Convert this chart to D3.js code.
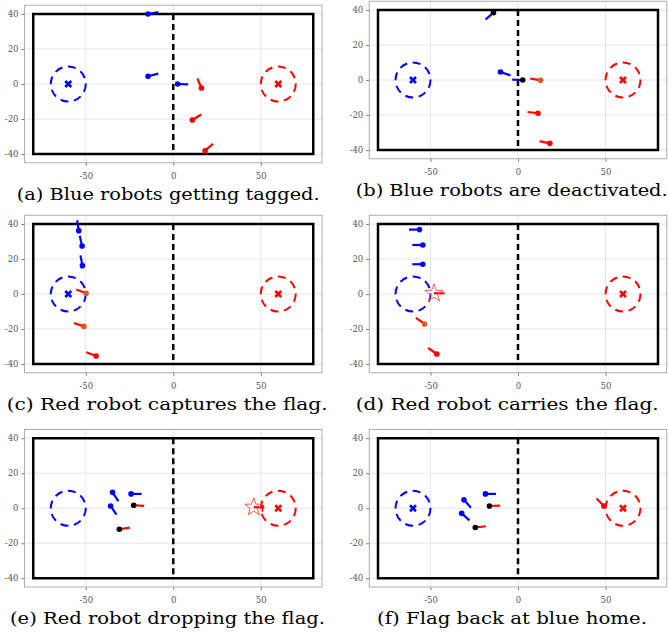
<!DOCTYPE html>
<html>
<head>
<meta charset="utf-8">
<script src="https://cdn.jsdelivr.net/npm/d3@7"></script>
<style>
  body { margin: 0; background: #fff; }
  svg { display: block; }
</style>
</head>
<body>
<svg id="fig" width="668" height="635"></svg>
<script>
// axis ticks
const xTicks = [-50, 0, 50];
const yTicks = [-40, -20, 0, 20, 40];

const captions = [
  '(a) Blue robots getting tagged.',
  '(b) Blue robots are deactivated.',
  '(c) Red robot captures the flag.',
  '(d) Red robot carries the flag.',
  '(e) Red robot dropping the flag.',
  '(f) Flag back at blue home.'
];

// robots per panel: [x, y, heading (deg), team, dot state]
// dot state: b = blue, r = red, k = tagged (black), o = near flag (orange), s = carrying flag (star)
const robotsA = [
  [-14.4, 40, 10, 'blue', 'b'], [-14.4, 4.4, 15, 'blue', 'b'], [2.5, 0, -2, 'blue', 'b'],
  [16.1, -2.3, 113, 'red', 'r'], [10.9, -20.6, 32, 'red', 'r'], [18.2, -38.1, 41, 'red', 'r']
];
const robotsB = [
  [-14, 38.5, 221, 'blue', 'k'], [-10, 4.6, -19, 'blue', 'b'], [2.7, 0, 178, 'blue', 'k'],
  [12.9, -0.2, 170, 'red', 'o'], [11.4, -19, 173, 'red', 'r'], [18.2, -36.2, 168, 'red', 'r']
];
const robotsC = [
  [-54, 36.2, 99, 'blue', 'b'], [-52.1, 27.4, 103, 'blue', 'b'], [-51.9, 16.2, 101, 'blue', 'b'],
  [-49.8, 0.4, 159, 'red', 'o'], [-51.1, -18.5, 161, 'red', 'o'], [-44.1, -35.4, 159, 'red', 'r']
];
const robotsD = [
  [-56.3, 36.8, 180, 'blue', 'b'], [-54.4, 28, 180, 'blue', 'b'], [-54.4, 17, 180, 'blue', 'b'],
  [-48, 0.4, 0, 'red', 's'], [-53.4, -17.1, 145, 'red', 'o'], [-46.4, -34.3, 145, 'red', 'r']
];
const robotsE = [
  [-34.7, 9.1, -56, 'blue', 'b'], [-35.8, 1.3, -56, 'blue', 'b'], [-24.1, 8.2, 0, 'blue', 'b'],
  [-22.6, 1.7, -3, 'red', 'k'], [-30.8, -12, 9, 'red', 'k'], [46, 0.6, 0, 'red', 's']
];
const robotsF = [
  [-30.9, 4.8, -48, 'blue', 'b'], [-32.2, -2.9, -42, 'blue', 'b'], [-18.6, 8.2, 0, 'blue', 'b'],
  [-16.3, 1.3, 2, 'red', 'k'], [-24.4, -11, 7, 'red', 'k'], [49.1, 1.3, 135, 'red', 'r']
];
const panelRobots = [robotsA, robotsB, robotsC, robotsD, robotsE, robotsF];

// is each team's flag sitting at its home base?
const blueFlagHome = [true, true, true, false, false, true];
const redFlagHome  = [true, true, true, true, true, true];
// extra "+" marker where the flag was dropped
const dropMarks = [[], [], [], [], [[51, 0]], []];

const HOME_X = 60, HOME_R = 10;
const FIELD_W = 80, FIELD_H = 40;
const HEAD_LEN = 6;

const COL = { blue: '#0000ff', red: '#ff0000' };
const DOT = { b: '#0000ff', r: '#ff0000', k: '#000000', o: '#e2581c' };

// panel layout (pixels)
const PW = 297.5, PH = 157.5;
const lefts = [24.5, 369.25, 24.5, 369.25, 24.5, 369.25];
const tops  = [5.25, 1.25, 215.25, 215.25, 429.5, 429.5];
const capX  = [16.7, 355.7, 6.7, 355.7, 10, 377];
const capW  = [303, 312, 321, 303, 315, 270];

const svg = d3.select('#fig');

function starPath(r, ri) {
  const pts = [];
  for (let i = 0; i < 10; i++) {
    const a = -Math.PI / 2 + i * Math.PI / 5;
    const rr = i % 2 ? ri : r;
    pts.push([rr * Math.cos(a), rr * Math.sin(a)]);
  }
  return 'M' + pts.map(p => p.join(',')).join('L') + 'Z';
}

panelRobots.forEach((robots, i) => {
  const x = d3.scaleLinear().domain([-85, 85]).range([lefts[i], lefts[i] + PW]);
  const y = d3.scaleLinear().domain([-45, 45]).range([tops[i] + PH, tops[i]]);
  const g = svg.append('g');

  // grid
  g.selectAll('.gx').data(xTicks).join('line')
    .attr('x1', d => x(d)).attr('x2', d => x(d))
    .attr('y1', tops[i]).attr('y2', tops[i] + PH)
    .attr('stroke', '#e6e6e6').attr('stroke-width', 1);
  g.selectAll('.gy').data(yTicks).join('line')
    .attr('x1', lefts[i]).attr('x2', lefts[i] + PW)
    .attr('y1', d => y(d)).attr('y2', d => y(d))
    .attr('stroke', '#e6e6e6').attr('stroke-width', 1);

  // axes
  const fontCss = 'font-family:"DejaVu Serif",serif;font-size:8.5px;fill:#555';
  const xAxis = g.append('g').attr('transform', `translate(0,${tops[i] + PH})`)
    .call(d3.axisBottom(x).tickValues(xTicks).tickSize(3).tickPadding(7).tickFormat(d3.format('d')));
  const yAxis = g.append('g').attr('transform', `translate(${lefts[i]},0)`)
    .call(d3.axisLeft(y).tickValues(yTicks).tickSize(3).tickPadding(3).tickFormat(d3.format('d')));
  [xAxis, yAxis].forEach(ax => {
    ax.select('.domain').remove();
    ax.selectAll('line').attr('stroke', '#777');
    ax.selectAll('text').attr('style', fontCss).text(d => String(d));
  });
  g.append('rect')
    .attr('x', lefts[i]).attr('y', tops[i]).attr('width', PW).attr('height', PH)
    .attr('fill', 'none').attr('stroke', '#adadad').attr('stroke-width', 1);

  // field boundary + center line
  g.append('rect')
    .attr('x', x(-FIELD_W)).attr('y', y(FIELD_H))
    .attr('width', x(FIELD_W) - x(-FIELD_W)).attr('height', y(-FIELD_H) - y(FIELD_H))
    .attr('fill', 'none').attr('stroke', '#000').attr('stroke-width', 2.5);
  g.append('line')
    .attr('x1', x(0)).attr('x2', x(0)).attr('y1', y(FIELD_H)).attr('y2', y(-FIELD_H))
    .attr('stroke', '#000').attr('stroke-width', 2.5).attr('stroke-dasharray', '6,4');

  // home bases
  [[-HOME_X, 'blue', blueFlagHome[i]], [HOME_X, 'red', redFlagHome[i]]].forEach(([hx, team, home]) => {
    g.append('ellipse')
      .attr('cx', x(hx)).attr('cy', y(0))
      .attr('rx', x(HOME_R) - x(0)).attr('ry', y(0) - y(HOME_R))
      .attr('fill', 'none').attr('stroke', COL[team]).attr('stroke-width', 2)
      .attr('stroke-dasharray', '8,5.6');
    if (home) {
      const cx = x(hx), cy = y(0), s = 3;
      g.append('path')
        .attr('d', `M${cx - s},${cy - s}L${cx + s},${cy + s}M${cx - s},${cy + s}L${cx + s},${cy - s}`)
        .attr('stroke', COL[team]).attr('stroke-width', 2.6);
    }
  });

  // robots: heading line then body
  robots.forEach(([rx, ry, hdg, team, st]) => {
    const a = hdg * Math.PI / 180;
    g.append('line')
      .attr('x1', x(rx)).attr('y1', y(ry))
      .attr('x2', x(rx + HEAD_LEN * Math.cos(a))).attr('y2', y(ry + HEAD_LEN * Math.sin(a)))
      .attr('stroke', COL[team]).attr('stroke-width', 2.2);
  });
  robots.forEach(([rx, ry, hdg, team, st]) => {
    if (st === 's') {
      g.append('path')
        .attr('d', starPath(9.5, 3.8))
        .attr('transform', `translate(${x(rx)},${y(ry)})`)
        .attr('fill', 'none').attr('stroke', '#f2603c').attr('stroke-width', 1);
    } else {
      g.append('circle')
        .attr('cx', x(rx)).attr('cy', y(ry)).attr('r', 2.8)
        .attr('fill', DOT[st]);
    }
  });
  dropMarks[i].forEach(([mx, my]) => {
    const cx = x(mx), cy = y(my);
    g.append('path')
      .attr('d', `M${cx},${cy - 3.5}L${cx},${cy + 3.5}`)
      .attr('stroke', COL.red).attr('stroke-width', 1.6);
  });

  // caption
  svg.append('text')
    .attr('x', capX[i]).attr('y', tops[i] + PH + 37)
    .attr('textLength', capW[i]).attr('lengthAdjust', 'spacingAndGlyphs')
    .style('font-family', '"DejaVu Serif", serif')
    .style('font-size', '16.5px')
    .style('fill', '#000')
    .text(captions[i]);
});
</script>
</body>
</html>
